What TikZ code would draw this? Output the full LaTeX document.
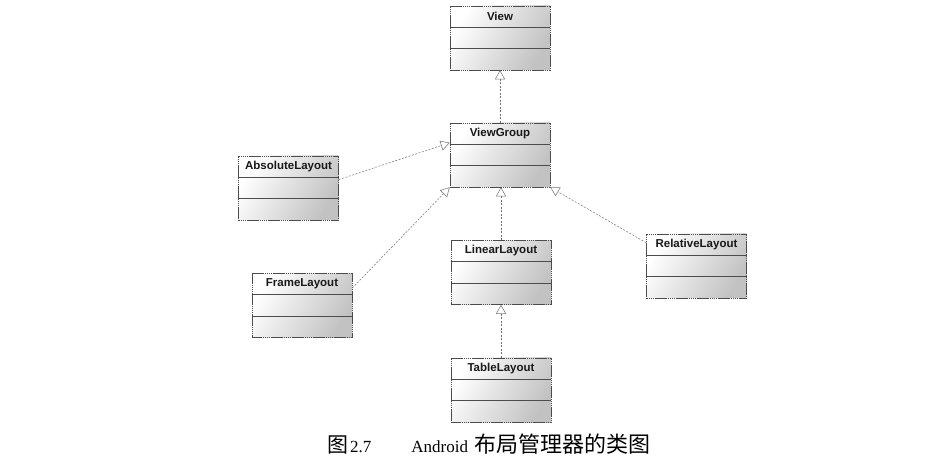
\documentclass[tikz,border=0pt]{standalone}
\usepackage{fontspec}
\setmainfont{Liberation Serif}
\newfontfamily\lblfont{Liberation Sans}
\newfontfamily\cjkfont{Noto Sans CJK SC}
\usetikzlibrary{arrows.meta,calc}
\tikzset{
  cls/.style={rectangle, draw=black!70, line width=0.6pt, dash pattern=on 1.6pt off 0.5pt,
    minimum width=100pt, minimum height=64pt, inner sep=0pt,
    left color=white, right color=black!24, shading angle=60},
  lbl/.style={font=\lblfont\bfseries\fontsize{11.5}{13}\selectfont, text=black!90, inner sep=0pt},
  divline/.style={draw=black!70, line width=0.6pt},
  gen/.style={draw=black!55, line width=0.5pt, dash pattern=on 2pt off 1.5pt,
    -{Triangle[open, length=9pt, width=10pt]}},
}
\newcommand\umlclass[3]{%
  \node[cls] (#1) at (#2) {};
  \node[lbl] (#1-t) at ($(#1.north)!0.165!(#1.south)$) {#3};
  \draw[divline] ($(#1.north west)!0.333!(#1.south west)$) -- ($(#1.north east)!0.333!(#1.south east)$);
  \draw[divline] ($(#1.north west)!0.667!(#1.south west)$) -- ($(#1.north east)!0.667!(#1.south east)$);
}
\begin{document}
\begin{tikzpicture}[x=1pt,y=-1pt]
\fill[white] (0,0) rectangle (943,470);
\useasboundingbox (0,0) rectangle (943,470);

\umlclass{view}{500,38}{View}
\umlclass{vg}{500,155}{ViewGroup}
\umlclass{abs}{288.5,188}{AbsoluteLayout}
\umlclass{frame}{302,305.5}{FrameLayout}
\umlclass{lin}{501,272.5}{LinearLayout}
\umlclass{tab}{501,390}{TableLayout}
\umlclass{rel}{696.5,266}{RelativeLayout}

\draw[gen] (vg.north) -- (view.south);
\draw[gen] ($(abs.north east)!0.37!(abs.south east)$) -- ($(vg.north west)!0.31!(vg.south west)$);
\draw[gen] ($(frame.north east)!0.23!(frame.south east)$) -- (vg.south west);
\draw[gen] (lin.north) -- (lin.north |- vg.south);
\draw[gen] (tab.north) -- (lin.south);
\draw[gen] ($(rel.north west)!0.14!(rel.south west)$) -- (vg.south east);

\node[anchor=base west, inner sep=0pt] (cap) at (327,452)
  {{\cjkfont\fontsize{21}{24}\selectfont 图}\hspace{2pt}\fontsize{17}{20}\selectfont 2.7\hspace{40pt}Android\hspace{6pt}{\cjkfont\fontsize{22}{24}\selectfont 布局管理器的类图}};
\end{tikzpicture}
\end{document}
